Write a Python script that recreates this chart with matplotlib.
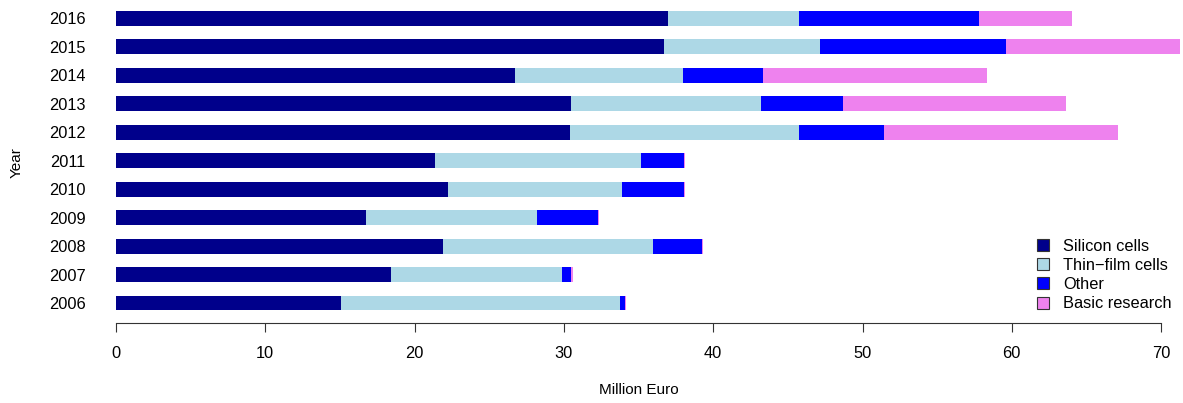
import matplotlib
matplotlib.use("Agg")
import matplotlib.pyplot as plt
from matplotlib.patches import Patch
import matplotlib.transforms as mtransforms
import numpy as np

plt.rcParams['font.family'] = ['Liberation Sans', 'DejaVu Sans']
plt.rcParams['font.size'] = 11.8

# Funding per year (million euro), stacked by research area
years = ['2006', '2007', '2008', '2009', '2010', '2011',
         '2012', '2013', '2014', '2015', '2016']
silicon = [15.07, 18.42, 21.90, 16.74, 22.24, 21.37, 30.41, 30.48, 26.72, 36.70, 36.97]
thin_film = [18.69, 11.45, 14.07, 11.46, 11.65, 13.79, 15.34, 12.72, 11.26, 10.45, 8.78]
other = [0.33, 0.61, 3.28, 4.08, 4.15, 2.88, 5.69, 5.50, 5.36, 12.45, 12.05]
basic = [0.10, 0.10, 0.10, 0.10, 0.10, 0.10, 15.67, 14.93, 15.00, 11.67, 6.23]

series = [silicon, thin_film, other, basic]
labels = ['Silicon cells', 'Thin\u2212film cells', 'Other', 'Basic research']
colors = ['#00008b', '#add8e6', '#0000ff', '#ee82ee']

W, H = 1183, 403
fig = plt.figure(figsize=(W / 100, H / 100), dpi=100)

# axes box in pixels
left, right, top, bottom = 116, 1183, 4, 322.7
ax = fig.add_axes([left / W, 1 - bottom / H, (right - left) / W, (bottom - top) / H])

px_per_unit = 14.93
row_px = 28.45
ax.set_xlim(0, (right - left) / px_per_unit)
ax.set_ylim(-(bottom - 303) / row_px, 10 + (18.5 - top) / row_px)

y = np.arange(len(years))
start = np.zeros(len(years))
for vals, col in zip(series, colors):
    ax.barh(y, vals, left=start, height=0.527, color=col, linewidth=0)
    start += np.array(vals)

for s in ['top', 'right', 'left']:
    ax.spines[s].set_visible(False)
ax.spines['bottom'].set_bounds(0, 70)
ax.spines['bottom'].set_color('#333333')
ax.set_xticks(np.arange(0, 71, 10))
ax.tick_params(axis='x', length=6.5, width=0.8, color='#333333', pad=10.5)
ax.set_yticks(y)
ax.set_yticklabels(years)
ax.tick_params(axis='y', length=0, pad=22)

trans = mtransforms.blended_transform_factory(ax.transData, fig.transFigure)
ax.text(35, 1 - 390 / H, 'Million Euro', transform=trans, ha='center', va='center',
        fontsize=11)
fig.text(17 / W, 1 - 163 / H, 'Year', rotation=90, ha='center', va='center',
         fontsize=11)

handles = [Patch(facecolor=c, edgecolor='#333333', linewidth=0.8) for c in colors]
ax.legend(handles, labels, loc='lower right', frameon=False,
          bbox_to_anchor=(1.0, 0.0), handlelength=0.75, handleheight=0.75,
          handletextpad=0.85, labelspacing=0.25, borderaxespad=0.3)

fig.savefig('out.png', dpi=100)
